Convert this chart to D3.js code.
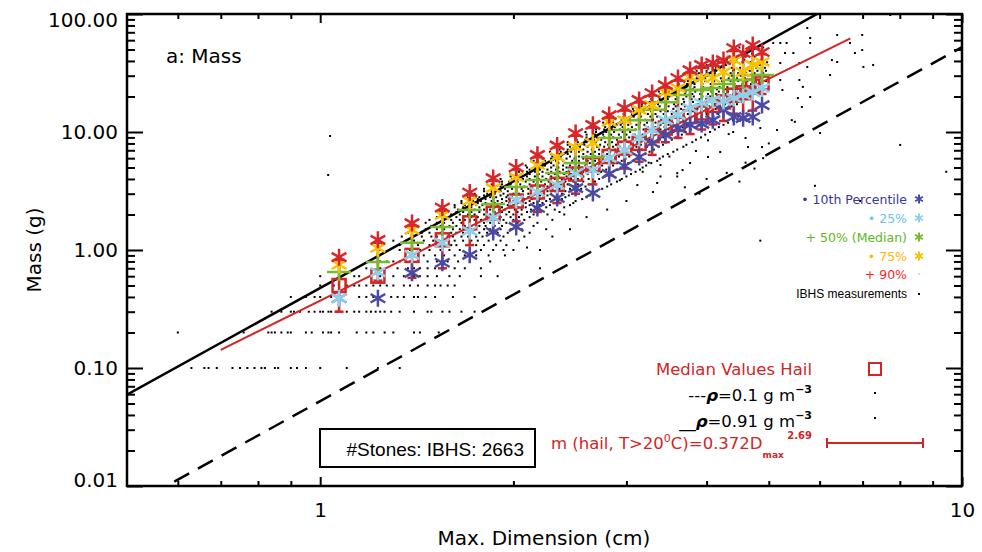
<!DOCTYPE html>
<html>
<head>
<meta charset="utf-8">
<script src="https://cdn.jsdelivr.net/npm/d3@7/dist/d3.min.js"></script>
<style>
  body { margin: 0; background: #fff; }
  svg { display: block; }
</style>
</head>
<body>
<svg id="chart" width="982" height="552"></svg>
<script>
// ---- Binned percentile statistics (bin centres in cm, masses in g) ----
const binD = [1.07, 1.23, 1.39, 1.55, 1.71, 1.86, 2.02, 2.18, 2.34, 2.50, 2.66, 2.82, 2.98,
              3.14, 3.29, 3.45, 3.61, 3.77, 3.93, 4.09, 4.25, 4.41, 4.56, 4.72, 4.88];
const p10 = [0.39, 0.39, 0.64, 0.78, 0.91, 1.42, 1.57, 2.27, 2.76, 3.35, 3.04, 4.41, 5.15,
             6.14, 8.07, 9.44, 10.8, 11.5, 11.7, 12.6, 15.4, 13.4, 13.1, 13.4, 16.9];
const p25 = [0.39, 0.65, 0.91, 1.15, 1.45, 1.87, 2.65, 3.10, 3.56, 4.50, 4.76, 6.03, 7.04,
             8.90, 10.4, 12.6, 13.9, 16.0, 17.6, 18.7, 18.3, 19.4, 20.6, 21.8, 23.6];
const p50 = [0.65, 0.79, 1.15, 1.57, 2.18, 2.45, 3.42, 3.92, 4.50, 5.46, 6.14, 8.90, 10.4,
             12.6, 15.4, 17.9, 20.6, 22.7, 22.7, 23.6, 25.5, 27.6, 27.6, 30.4, 30.4];
const p75 = [0.75, 1.04, 1.48, 1.98, 2.60, 3.35, 4.15, 5.25, 6.14, 7.46, 8.07, 12.2, 12.6,
             15.4, 16.9, 21.8, 23.6, 29.2, 28.7, 28.7, 32.2, 40.7, 32.2, 37.0, 39.2];
const p90 = [0.87, 1.22, 1.69, 2.29, 3.07, 4.07, 5.00, 6.40, 7.70, 9.80, 11.5, 13.9, 16.0,
             18.7, 21.4, 25.0, 28.7, 33.5, 37.0, 38.5, 40.7, 51.5, 46.7, 54.6, 47.6];

// Hail median per bin with its spread (error bar ends)
const hailMed = [0.50, 0.60, 0.90, 1.22, 1.70, 2.05, 2.60, 3.10, 3.60, 4.40, 5.30, 6.20, 7.30,
                 8.00, 9.30, 10.8, 11.6, 13.5, 14.5, 16.8, 18.0, 20.5, 21.5, 24.5, 26.0];
const hailLo  = [0.30, 0.55, 0.58, 0.70, 1.10, 1.45, 1.75, 2.10, 2.50, 3.00, 3.60, 4.30, 4.90,
                 5.60, 6.40, 8.20, 8.90, 9.60, 10.5, 11.6, 12.4, 14.3, 12.8, 15.2, 21.0];
const hailHi  = [0.82, 1.15, 1.60, 2.15, 2.90, 3.85, 4.80, 6.10, 7.40, 9.30, 10.9, 13.2, 15.2,
                 17.8, 20.4, 23.8, 27.2, 31.8, 35.0, 36.5, 38.8, 48.5, 44.3, 51.5, 45.5];

// Power-law fit m = a * D^b and its drawn extent
const fitA = 0.372, fitB = 2.69;
const fitExtent = [0.70, 6.70];

// Constant-density spheres (g cm^-3)
const rhoSolid = 0.91, rhoDashed = 0.1;

// IBHS measurements: rows of constant mass (g) with the diameters (cm) measured at that mass
const dotRows = [
  [0.1, [0.63, 0.66, 0.67, 0.69, 0.73, 0.75, 0.77, 0.79, 0.81, 0.82, 0.85, 0.86, 0.90, 0.92, 0.95, 1.00, 1.10, 1.23, 1.33]],
  [0.2, [0.60, 0.76, 0.83, 0.84, 0.85, 0.87, 0.89, 0.90, 0.95, 0.97, 1.01, 1.03, 1.04, 1.07, 1.14, 1.18, 1.21, 1.26, 1.30, 1.40, 1.43, 1.53]],
  [0.3, [0.84, 0.87, 0.90, 0.91, 0.93, 0.96, 0.98, 1.00, 1.01, 1.03, 1.04, 1.06, 1.10, 1.13, 1.15, 1.18, 1.20, 1.22, 1.24, 1.26, 1.29, 1.33, 1.40, 1.47, 1.49, 1.55, 1.59, 1.66, 1.74]],
  [0.4, [0.90, 0.95, 0.98, 1.00, 1.04, 1.15, 1.18, 1.21, 1.24, 1.29, 1.32, 1.35, 1.40, 1.42, 1.46, 1.51, 1.61, 1.74]],
  [0.5, [1.00, 1.05, 1.07, 1.10, 1.13, 1.15, 1.18, 1.21, 1.24, 1.27, 1.30, 1.35, 1.38, 1.42, 1.47, 1.51, 1.54, 1.58, 1.62]],
  [0.6, [1.00, 1.13, 1.15, 1.24, 1.30, 1.35, 1.40, 1.43, 1.47, 1.52, 1.59, 1.65, 1.78, 1.89]],
  [0.7, [1.18, 1.24, 1.32, 1.37, 1.40, 1.43, 1.47, 1.51, 1.56, 1.62, 1.68, 1.78, 2.20]],
  [0.8, [1.20, 1.24, 1.27, 1.30, 1.33, 1.38, 1.42, 1.47, 1.52, 1.58, 1.64, 1.71, 1.84]],
  [0.9, [1.38, 1.42, 1.45, 1.51, 1.56, 1.62, 1.68, 1.75, 1.83, 1.94]],
  [1.0, [1.24, 1.33, 1.38, 1.43, 1.48, 1.54, 1.59, 1.65, 1.71, 1.78, 1.86, 1.93, 2.00, 2.20]],
  [1.1, [1.25, 1.33, 1.39, 1.42, 1.48, 1.50, 1.56, 1.60, 1.63, 1.69, 1.75, 1.80, 1.88, 1.95]],
  [1.2, [1.30, 1.36, 1.40, 1.45, 1.50, 1.53, 1.57, 1.62, 1.67, 1.72, 1.76, 1.83, 1.91, 2.04]],
  [1.3, [1.34, 1.39, 1.44, 1.49, 1.52, 1.58, 1.61, 1.66, 1.70, 1.75, 1.79, 1.86, 1.93, 2.08]],
  [1.4, [1.37, 1.44, 1.48, 1.54, 1.60, 1.63, 1.67, 1.73, 1.77, 1.82, 1.89, 1.96, 2.12]],
  [1.5, [1.40, 1.46, 1.52, 1.56, 1.61, 1.65, 1.69, 1.74, 1.80, 1.84, 1.91, 1.98, 2.06, 2.25]],
  [1.6, [1.42, 1.49, 1.54, 1.59, 1.63, 1.68, 1.72, 1.77, 1.81, 1.87, 1.92, 2.01, 2.15]],
  [1.7, [1.46, 1.52, 1.56, 1.61, 1.66, 1.71, 1.75, 1.80, 1.84, 1.90, 1.95, 2.03, 2.18]],
  [1.8, [1.48, 1.55, 1.60, 1.65, 1.68, 1.74, 1.78, 1.83, 1.87, 1.93, 2.00, 2.08, 2.30]],
  [1.9, [1.52, 1.57, 1.63, 1.67, 1.72, 1.76, 1.82, 1.86, 1.91, 1.98, 2.04, 2.12]],
  [2.0, [1.54, 1.60, 1.65, 1.70, 1.74, 1.80, 1.84, 1.89, 1.95, 2.00, 2.06, 2.15, 2.26, 2.40]],
  [2.1, [1.58, 1.63, 1.67, 1.72, 1.77, 1.82, 1.87, 1.92, 1.97, 2.03, 2.10, 2.19, 2.36]],
  [2.2, [1.57, 1.64, 1.70, 1.74, 1.80, 1.84, 1.90, 1.94, 2.01, 2.06, 2.13, 2.20, 2.32]],
  [2.3, [1.62, 1.67, 1.72, 1.77, 1.82, 1.87, 1.92, 1.98, 2.03, 2.09, 2.16, 2.25, 2.40]],
  [2.4, [1.62, 1.68, 1.75, 1.79, 1.85, 1.89, 1.96, 2.00, 2.07, 2.12, 2.20, 2.28, 2.45]],
  [2.5, [1.66, 1.71, 1.76, 1.81, 1.87, 1.92, 1.97, 2.03, 2.09, 2.15, 2.22, 2.31, 2.48]],
  [2.6, [1.66, 1.73, 1.78, 1.85, 1.89, 1.95, 2.00, 2.07, 2.12, 2.19, 2.25, 2.35, 2.50]],
  [2.7, [1.71, 1.76, 1.81, 1.86, 1.92, 1.97, 2.02, 2.08, 2.14, 2.20, 2.28, 2.38, 2.56]],
  [2.8, [1.70, 1.77, 1.84, 1.88, 1.95, 1.99, 2.06, 2.11, 2.18, 2.23, 2.32, 2.41, 2.60]],
  [2.9, [1.75, 1.80, 1.85, 1.91, 1.96, 2.02, 2.07, 2.13, 2.20, 2.26, 2.34, 2.44, 2.63]],
  [3.0, [1.74, 1.82, 1.87, 1.93, 2.00, 2.04, 2.11, 2.16, 2.23, 2.29, 2.38, 2.47, 2.66]],
  [3.15,[1.80, 1.85, 1.91, 1.96, 2.02, 2.07, 2.13, 2.19, 2.26, 2.32, 2.41, 2.51, 2.70]],
  [3.3, [1.80, 1.87, 1.94, 1.99, 2.06, 2.11, 2.18, 2.23, 2.30, 2.36, 2.45, 2.55, 2.75]],
  [3.45,[1.86, 1.91, 1.97, 2.02, 2.08, 2.14, 2.20, 2.26, 2.33, 2.40, 2.48, 2.59, 2.80]],
  [3.6, [1.85, 1.92, 1.98, 2.05, 2.12, 2.17, 2.24, 2.29, 2.37, 2.43, 2.52, 2.62, 2.84]],
  [3.8, [1.92, 1.97, 2.03, 2.09, 2.15, 2.21, 2.27, 2.34, 2.41, 2.48, 2.57, 2.68, 2.90]],
  [4.0, [1.91, 1.99, 2.07, 2.12, 2.19, 2.25, 2.32, 2.38, 2.46, 2.52, 2.62, 2.72, 2.95]],
  [4.2, [1.98, 2.04, 2.10, 2.16, 2.22, 2.29, 2.35, 2.42, 2.49, 2.57, 2.66, 2.77, 3.00]],
  [4.4, [1.98, 2.06, 2.12, 2.19, 2.27, 2.32, 2.40, 2.46, 2.54, 2.61, 2.71, 2.82, 3.05]],
  [4.6, [2.04, 2.10, 2.16, 2.22, 2.29, 2.36, 2.42, 2.49, 2.57, 2.64, 2.74, 2.86, 3.10]],
  [4.8, [2.03, 2.12, 2.20, 2.26, 2.33, 2.39, 2.47, 2.53, 2.61, 2.68, 2.79, 2.90, 3.15]],
  [5.0, [2.10, 2.16, 2.22, 2.29, 2.35, 2.42, 2.49, 2.56, 2.64, 2.72, 2.82, 2.94, 3.18]],
  [5.2, [2.09, 2.17, 2.24, 2.31, 2.39, 2.45, 2.53, 2.59, 2.68, 2.75, 2.86, 2.98, 3.22]],
  [5.45,[2.16, 2.22, 2.29, 2.35, 2.42, 2.49, 2.56, 2.63, 2.71, 2.80, 2.90, 3.02, 3.28]],
  [5.7, [2.15, 2.24, 2.33, 2.39, 2.47, 2.53, 2.61, 2.68, 2.77, 2.84, 2.95, 3.08, 3.35]],
  [5.95,[2.22, 2.29, 2.36, 2.42, 2.49, 2.57, 2.64, 2.72, 2.80, 2.88, 2.99, 3.12, 3.38]],
  [6.2, [2.21, 2.30, 2.37, 2.45, 2.53, 2.60, 2.68, 2.75, 2.84, 2.92, 3.03, 3.16, 3.42]],
  [6.5, [2.29, 2.36, 2.43, 2.50, 2.57, 2.64, 2.72, 2.80, 2.88, 2.97, 3.08, 3.21, 3.48]],
  [6.8, [2.28, 2.37, 2.46, 2.53, 2.61, 2.68, 2.76, 2.83, 2.93, 3.01, 3.13, 3.26, 3.55]],
  [7.1, [2.36, 2.43, 2.50, 2.57, 2.65, 2.72, 2.80, 2.88, 2.97, 3.06, 3.17, 3.31, 3.60]],
  [7.5, [2.36, 2.45, 2.54, 2.61, 2.70, 2.77, 2.86, 2.93, 3.03, 3.11, 3.23, 3.37, 3.68]],
  [7.8, [2.43, 2.51, 2.58, 2.66, 2.73, 2.81, 2.89, 2.98, 3.07, 3.16, 3.28, 3.42, 3.72]],
  [8.2, [2.43, 2.52, 2.60, 2.69, 2.78, 2.85, 2.94, 3.02, 3.12, 3.21, 3.33, 3.47, 3.80]],
  [8.6, [2.51, 2.59, 2.67, 2.74, 2.82, 2.90, 2.99, 3.07, 3.17, 3.26, 3.38, 3.53, 3.85]],
  [9.0, [2.50, 2.60, 2.70, 2.77, 2.86, 2.94, 3.03, 3.11, 3.21, 3.30, 3.43, 3.58, 3.92]],
  [9.5, [2.60, 2.68, 2.76, 2.84, 2.92, 3.00, 3.09, 3.18, 3.28, 3.38, 3.50, 3.66, 3.98]],
  [10,  [2.59, 2.69, 2.79, 2.87, 2.96, 3.04, 3.14, 3.22, 3.33, 3.42, 3.55, 3.71, 4.05, 4.40]],
  [10.5,[2.69, 2.77, 2.85, 2.93, 3.02, 3.10, 3.19, 3.29, 3.39, 3.49, 3.62, 3.78, 4.12]],
  [11,  [2.68, 2.78, 2.88, 2.96, 3.06, 3.14, 3.24, 3.33, 3.44, 3.54, 3.67, 3.83, 4.18]],
  [11.5,[2.77, 2.86, 2.94, 3.02, 3.11, 3.20, 3.29, 3.39, 3.49, 3.60, 3.73, 3.89, 4.25]],
  [12,  [2.76, 2.86, 2.96, 3.04, 3.15, 3.23, 3.33, 3.42, 3.54, 3.64, 3.78, 3.95, 4.32]],
  [12.7,[2.86, 2.95, 3.04, 3.12, 3.21, 3.30, 3.40, 3.50, 3.61, 3.72, 3.85, 4.02, 4.40]],
  [13.5,[2.86, 2.97, 3.08, 3.16, 3.27, 3.35, 3.46, 3.56, 3.68, 3.78, 3.93, 4.10, 4.48]],
  [14.2,[2.97, 3.06, 3.15, 3.24, 3.33, 3.43, 3.53, 3.63, 3.74, 3.86, 4.00, 4.17, 4.55]],
  [15,  [2.97, 3.08, 3.19, 3.28, 3.39, 3.48, 3.59, 3.69, 3.81, 3.92, 4.07, 4.25, 4.65]],
  [15.7,[3.07, 3.17, 3.26, 3.35, 3.45, 3.55, 3.65, 3.76, 3.87, 3.99, 4.13, 4.31]],
  [16.5,[3.06, 3.17, 3.29, 3.38, 3.49, 3.58, 3.70, 3.80, 3.93, 4.04, 4.20, 4.38]],
  [17.2,[3.17, 3.27, 3.36, 3.46, 3.56, 3.66, 3.77, 3.88, 4.00, 4.12, 4.27, 4.46]],
  [18,  [3.15, 3.26, 3.38, 3.48, 3.59, 3.69, 3.81, 3.91, 4.04, 4.16, 4.32, 4.52]],
  [19,  [3.28, 3.38, 3.48, 3.58, 3.68, 3.79, 3.90, 4.01, 4.13, 4.26, 4.41, 4.60]],
  [20,  [3.26, 3.38, 3.50, 3.60, 3.72, 3.82, 3.94, 4.05, 4.19, 4.31, 4.47, 4.68]],
  [21,  [3.39, 3.49, 3.59, 3.70, 3.80, 3.91, 4.02, 4.14, 4.27, 4.40, 4.55, 4.76]],
  [22,  [3.37, 3.49, 3.61, 3.71, 3.84, 3.94, 4.07, 4.18, 4.32, 4.45, 4.62, 4.84]],
  [23,  [3.49, 3.60, 3.70, 3.81, 3.92, 4.03, 4.15, 4.27, 4.40, 4.53, 4.70]],
  [24,  [3.47, 3.59, 3.72, 3.83, 3.95, 4.06, 4.19, 4.31, 4.45, 4.58, 4.76]],
  [25.5,[3.62, 3.73, 3.83, 3.94, 4.06, 4.17, 4.29, 4.42, 4.55, 4.69, 4.86]],
  [27,  [3.61, 3.74, 3.87, 3.98, 4.11, 4.23, 4.36, 4.48, 4.63, 4.77, 4.95]],
  [28.5,[3.75, 3.86, 3.98, 4.09, 4.21, 4.33, 4.46, 4.59, 4.72, 4.87]],
  [30,  [3.74, 3.87, 4.01, 4.12, 4.26, 4.38, 4.52, 4.65, 4.80, 4.94]],
  [31.5,[3.89, 4.00, 4.12, 4.24, 4.36, 4.48, 4.61, 4.75, 4.90]],
  [33,  [3.86, 4.00, 4.14, 4.26, 4.40, 4.52, 4.67, 4.80, 4.95]],
  [35,  [4.02, 4.14, 4.26, 4.38, 4.51, 4.64, 4.78, 4.93]],
  [37,  [4.00, 4.14, 4.29, 4.41, 4.56, 4.69, 4.84, 4.98]],
  [39,  [4.17, 4.29, 4.42, 4.55, 4.68, 4.82, 4.97]],
  [41,  [4.15, 4.30, 4.45, 4.58, 4.73, 4.87]],
  [43.5,[4.32, 4.46, 4.60, 4.74, 4.88]],
  [46,  [4.40, 4.55, 4.71, 4.85]],
  [52,  [4.50, 4.72, 4.90]]
];

// IBHS measurements away from the main cloud: [diameter cm, mass g]
const looseDots = [
  [1.036, 9.25], [1.029, 4.32],
  [5.74, 76.1], [5.80, 62.6], [5.80, 56.8], [6.39, 66.4], [6.99, 66.4], [6.69, 56.8],
  [6.99, 49.5], [6.81, 46.7], [7.27, 37.0], [7.02, 35.6], [6.39, 39.2], [6.27, 40.7],
  [6.23, 30.4], [5.74, 35.6], [5.58, 38.4], [5.46, 46.7], [5.30, 46.7], [5.21, 56.8],
  [5.08, 56.8], [5.33, 56.8], [5.21, 38.4], [5.21, 27.6], [5.25, 22.7], [5.58, 27.6],
  [5.65, 24.1], [5.55, 19.4], [5.80, 19.8], [5.63, 16.3], [5.15, 10.4], [5.43, 12.6],
  [5.49, 12.2], [6.01, 9.8], [4.88, 7.46], [4.64, 7.46], [4.20, 6.77], [4.02, 6.14],
  [3.77, 5.46], [3.67, 4.76], [3.60, 4.48], [3.39, 5.25], [3.35, 3.70], [3.12, 3.55],
  [2.93, 3.90], [3.18, 4.60], [3.39, 4.20], [3.60, 4.20], [7.73, 98.0], [8.01, 7.77],
  [9.45, 4.60], [6.94, 2.60], [5.90, 3.50], [4.85, 1.20], [4.02, 8.5], [4.33, 9.6],
  [4.60, 8.9], [4.85, 10.8], [3.85, 6.9], [3.50, 6.2], [3.25, 5.5], [4.40, 12.5],
  [3.00, 2.6], [3.30, 3.1], [3.70, 3.4], [4.00, 4.0], [4.30, 4.5], [4.60, 5.5],
  [4.90, 6.0], [3.90, 3.0], [4.50, 3.8], [2.80, 2.2], [2.60, 1.9], [2.45, 1.5],
  [2.30, 1.3], [2.10, 1.05], [5.00, 8.0], [4.75, 4.9]
];

// Axis ticks and labels
const xMajor = [1, 10];
const xMajorLabels = ["1", "10"];
const xMinor = [0.6, 0.7, 0.8, 0.9, 2, 3, 4, 5, 6, 7, 8, 9];
const yMajor = [0.01, 0.1, 1, 10, 100];
const yMajorLabels = ["0.01", "0.10", "1.00", "10.00", "100.00"];
const yMinor = [0.02, 0.03, 0.04, 0.05, 0.06, 0.07, 0.08, 0.09,
                0.2, 0.3, 0.4, 0.5, 0.6, 0.7, 0.8, 0.9,
                2, 3, 4, 5, 6, 7, 8, 9,
                20, 30, 40, 50, 60, 70, 80, 90];

// Percentile legend entries
const pctLegend = [
  { text: "\u2022 10th Percentile", color: "#38389a" },
  { text: "\u2022 25%",             color: "#6cc4e4" },
  { text: "+ 50% (Median)",         color: "#5cb820" },
  { text: "\u2022 75%",             color: "#ffb400" },
  { text: "+ 90%",                  color: "#ff1f1f" }
];

// ---- Colours ----
const C = {
  p10: "#4a4aa6", p25: "#8fd0ea", p50: "#79b92e", p75: "#f7c300", p90: "#d8262a",
  red: "#d42424"
};

const plot = { left: 127, right: 962, top: 14, bottom: 486 };

const x = d3.scaleLog().domain([0.5, 10]).range([plot.left, plot.right]);
const y = d3.scaleLog().domain([0.01, 100]).range([plot.bottom, plot.top]);

const svg = d3.select("#chart");
const FONT = "'DejaVu Sans', sans-serif";
const SANS = "'Liberation Sans', Arial, sans-serif";

svg.append("defs").append("clipPath").attr("id", "plotClip")
  .append("rect")
  .attr("x", plot.left).attr("y", plot.top)
  .attr("width", plot.right - plot.left).attr("height", plot.bottom - plot.top);

const g = svg.append("g").attr("clip-path", "url(#plotClip)");

// ---- Measurement dots ----
const dots = [];
dotRows.forEach(([m, ds]) => ds.forEach(d => dots.push([d, m])));
looseDots.forEach(p => dots.push(p));
g.append("g").selectAll("rect").data(dots).join("rect")
  .attr("x", d => x(d[0]) - 1).attr("y", d => y(d[1]) - 1)
  .attr("width", 2).attr("height", 2).attr("fill", "#000");

// ---- Density lines m = rho * pi/6 * D^3 ----
const sphere = rho => D => rho * Math.PI / 6 * Math.pow(D, 3);
const line = d3.line().x(d => x(d[0])).y(d => y(d[1]));
[[rhoSolid, null], [rhoDashed, "17,10"]].forEach(([rho, dash]) => {
  const f = sphere(rho);
  g.append("path")
    .attr("d", line([[0.5, f(0.5)], [10, f(10)]]))
    .attr("fill", "none").attr("stroke", "#000").attr("stroke-width", 2.5)
    .attr("stroke-dasharray", dash);
});

// ---- Fit line ----
const fit = D => fitA * Math.pow(D, fitB);
g.append("path")
  .attr("d", line(fitExtent.map(D => [D, fit(D)])))
  .attr("fill", "none").attr("stroke", C.red).attr("stroke-width", 2);

// ---- Hail medians with spread ----
const eb = g.append("g").attr("stroke", C.red).attr("stroke-width", 2.5).attr("fill", "none");
binD.forEach((D, i) => {
  const cx = x(D);
  eb.append("line").attr("x1", cx).attr("x2", cx).attr("y1", y(hailLo[i])).attr("y2", y(hailHi[i]));
  [hailLo[i], hailHi[i]].forEach(v => eb.append("line")
    .attr("x1", cx - 4.5).attr("x2", cx + 4.5).attr("y1", y(v)).attr("y2", y(v)));
  eb.append("rect").attr("x", cx - 6.5).attr("y", y(hailMed[i]) - 6.5)
    .attr("width", 13).attr("height", 13);
});

// ---- Percentile markers ----
function asterisk(r) {
  const c = r * Math.cos(Math.PI / 6), s = r * Math.sin(Math.PI / 6);
  return `M0,${-r}V${r}M${-c},${-s}L${c},${s}M${-c},${s}L${c},${-s}`;
}
const plusPath = "M-12,0H12M0,-9V9";
function markers(vals, color, path) {
  g.append("g").selectAll("path").data(binD).join("path")
    .attr("transform", (D, i) => `translate(${x(D)},${y(vals[i])})`)
    .attr("d", path).attr("fill", "none")
    .attr("stroke", color).attr("stroke-width", 2.5);
}
markers(p10, C.p10, asterisk(8.5));
markers(p25, C.p25, asterisk(8.5));
markers(p50, C.p50, plusPath);
markers(p75, C.p75, asterisk(8.5));
markers(p90, C.p90, asterisk(8.5));

// ---- Axes ----
function styleAxis(sel) {
  sel.select(".domain").remove();
  sel.selectAll(".tick line").attr("stroke", "#000").attr("stroke-width", 2);
  sel.selectAll("text").attr("font-family", FONT).attr("font-size", 20).attr("fill", "#000");
}
const axes = svg.append("g");
axes.append("g").attr("transform", `translate(0,${plot.bottom})`)
  .call(d3.axisBottom(x).tickValues(xMajor).tickFormat((d, i) => xMajorLabels[i]).tickSize(-9).tickPadding(17))
  .call(styleAxis);
axes.append("g").attr("transform", `translate(0,${plot.bottom})`)
  .call(d3.axisBottom(x).tickValues(xMinor).tickFormat("").tickSize(-5)).call(styleAxis);
axes.append("g").attr("transform", `translate(0,${plot.top})`)
  .call(d3.axisTop(x).tickValues(xMajor).tickFormat("").tickSize(-9)).call(styleAxis);
axes.append("g").attr("transform", `translate(0,${plot.top})`)
  .call(d3.axisTop(x).tickValues(xMinor).tickFormat("").tickSize(-5)).call(styleAxis);

const yAxisL = axes.append("g").attr("transform", `translate(${plot.left},0)`)
  .call(d3.axisLeft(y).tickValues(yMajor).tickFormat((d, i) => yMajorLabels[i]).tickSize(-16).tickPadding(9))
  .call(styleAxis);
// keep the end labels inside the frame height
yAxisL.selectAll(".tick text").attr("dy", d => d === 100 ? "0.62em" : d === 0.01 ? "0.02em" : "0.32em");
axes.append("g").attr("transform", `translate(${plot.left},0)`)
  .call(d3.axisLeft(y).tickValues(yMinor).tickFormat("").tickSize(-8)).call(styleAxis);
axes.append("g").attr("transform", `translate(${plot.right},0)`)
  .call(d3.axisRight(y).tickValues(yMajor).tickFormat("").tickSize(-16)).call(styleAxis);
axes.append("g").attr("transform", `translate(${plot.right},0)`)
  .call(d3.axisRight(y).tickValues(yMinor).tickFormat("").tickSize(-8)).call(styleAxis);

svg.append("rect")
  .attr("x", plot.left).attr("y", plot.top)
  .attr("width", plot.right - plot.left).attr("height", plot.bottom - plot.top)
  .attr("fill", "none").attr("stroke", "#000").attr("stroke-width", 2.5);

// Axis titles
svg.append("text").attr("x", 544).attr("y", 545).attr("text-anchor", "middle")
  .attr("font-family", FONT).attr("font-size", 20).text("Max. Dimension (cm)");
svg.append("text").attr("transform", "translate(41,250) rotate(-90)").attr("text-anchor", "middle")
  .attr("font-family", FONT).attr("font-size", 20).text("Mass (g)");

// Panel title
svg.append("text").attr("x", 166).attr("y", 63)
  .attr("font-family", FONT).attr("font-size", 20).text("a: Mass");

// ---- Percentile legend ----
const legY = [199, 218, 237, 256, 274];
const lg = svg.append("g");
pctLegend.forEach((e, i) => {
  lg.append("text").attr("x", 907).attr("y", legY[i] + 4.5).attr("text-anchor", "end")
    .attr("font-family", FONT).attr("font-size", 12.5).attr("fill", e.color).text(e.text);
});
[[C.p10, 0], [C.p25, 1], [C.p50, 2], [C.p75, 3]].forEach(([col, i]) => {
  lg.append("path").attr("transform", `translate(919,${legY[i]})`).attr("d", asterisk(4.5))
    .attr("fill", "none").attr("stroke", col).attr("stroke-width", 2);
});
lg.append("rect").attr("x", 918.5).attr("y", legY[4] - 0.5).attr("width", 1).attr("height", 1).attr("fill", "#ff1f1f");
lg.append("text").attr("x", 907).attr("y", 298).attr("text-anchor", "end")
  .attr("font-family", SANS).attr("font-size", 12).text("IBHS measurements");
lg.append("rect").attr("x", 918).attr("y", 293).attr("width", 2).attr("height", 2).attr("fill", "#000");

// ---- Hail / density legend ----
const hl = svg.append("g").attr("font-family", FONT).attr("font-size", 16.5);
hl.append("text").attr("x", 812).attr("y", 375).attr("text-anchor", "end").attr("fill", C.red)
  .text("Median Values Hail");
hl.append("rect").attr("x", 869).attr("y", 363).attr("width", 12).attr("height", 12)
  .attr("fill", "none").attr("stroke", C.red).attr("stroke-width", 2);

const t1 = hl.append("text").attr("x", 812).attr("y", 401).attr("text-anchor", "end");
t1.append("tspan").text("---");
t1.append("tspan").attr("font-weight", "bold").attr("font-style", "italic").text("\u03C1");
t1.append("tspan").text("=0.1 g m");
t1.append("tspan").attr("dy", -8).attr("font-size", 11).attr("font-weight", "bold").text("\u22123");
hl.append("rect").attr("x", 874).attr("y", 392).attr("width", 2).attr("height", 2).attr("fill", "#000");

const t2 = hl.append("text").attr("x", 812).attr("y", 427).attr("text-anchor", "end");
t2.append("tspan").text("__");
t2.append("tspan").attr("font-weight", "bold").attr("font-style", "italic").text("\u03C1");
t2.append("tspan").text("=0.91 g m");
t2.append("tspan").attr("dy", -8).attr("font-size", 11).attr("font-weight", "bold").text("\u22123");
hl.append("rect").attr("x", 874).attr("y", 417).attr("width", 2).attr("height", 2).attr("fill", "#000");

const t3 = hl.append("text").attr("x", 812).attr("y", 449).attr("text-anchor", "end").attr("fill", C.red);
t3.append("tspan").text("m (hail, T>20");
t3.append("tspan").attr("dy", -7).attr("font-size", 11).text("0");
t3.append("tspan").attr("dy", 7).text("C)=0.372D");
t3.append("tspan").attr("dy", 9).attr("font-size", 9).attr("font-weight", "bold").text("max");
t3.append("tspan").attr("dy", -19).attr("font-size", 10).attr("font-weight", "bold").text(" 2.69");
hl.append("path").attr("d", "M827,443H923M827,438V448M923,438V448")
  .attr("stroke", C.red).attr("stroke-width", 2).attr("fill", "none");

// ---- Sample count box ----
svg.append("rect").attr("x", 320).attr("y", 429).attr("width", 215).attr("height", 38)
  .attr("fill", "#fff").attr("stroke", "#000").attr("stroke-width", 2);
svg.append("text").attr("x", 524).attr("y", 456).attr("text-anchor", "end")
  .attr("font-family", SANS).attr("font-size", 19).text("#Stones: IBHS: 2663");
</script>
</body>
</html>
